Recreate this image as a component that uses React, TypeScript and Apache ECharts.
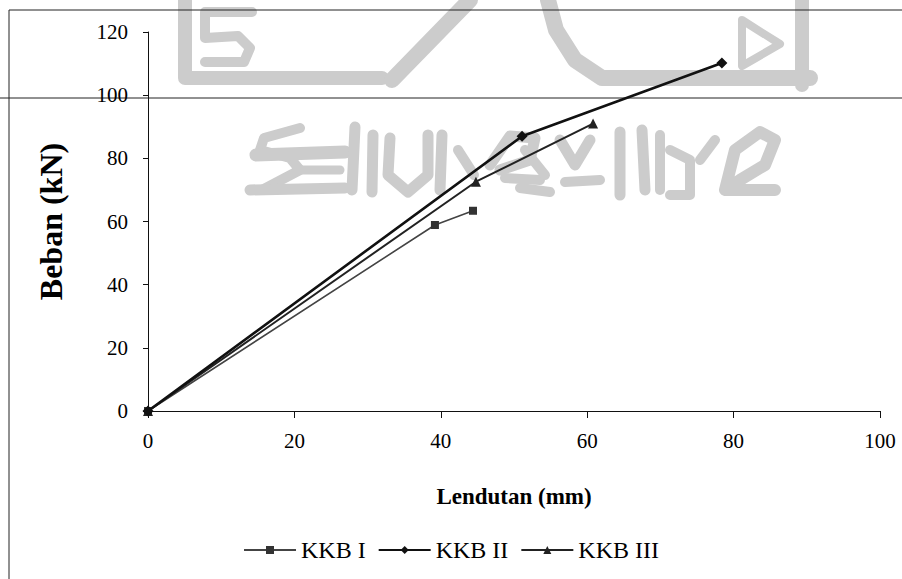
import React, { useEffect, useRef } from "react";
import * as echarts from "echarts";

// Load–deflection test results (Lendutan in mm, Beban in kN)
const seriesNames = ["KKB I", "KKB II", "KKB III"];
const kkb1Lendutan = [0, 39.2, 44.4];
const kkb1Beban = [0, 58.9, 63.4];
const kkb2Lendutan = [0, 51.1, 78.4];
const kkb2Beban = [0, 87.0, 110.2];
const kkb3Lendutan = [0, 44.8, 60.8];
const kkb3Beban = [0, 72.6, 91.0];

const xTicks = [0, 20, 40, 60, 80, 100];
const yTicks = [0, 20, 40, 60, 80, 100, 120];

const pair = (xs: number[], ys: number[]) => xs.map((x, i) => [x, ys[i]]);

const SERIF = "'Liberation Serif', 'DejaVu Serif', serif";
const WM = "#cccccc";

// faint emblem printed behind the plot
const stroke = (points: number[][], lineWidth: number) => ({
  type: "polyline",
  z: -5,
  silent: true,
  shape: { points },
  style: { stroke: WM, lineWidth, fill: null, lineJoin: "round", lineCap: "round" },
});

const emblem = [
  stroke([[185, 0], [185, 78], [382, 78]], 14),
  stroke([[252, 12], [205, 12], [205, 38], [238, 36], [250, 48], [244, 62], [205, 62]], 10),
  stroke([[392, 80], [470, 0]], 16),
  stroke([[548, 0], [556, 30], [575, 60], [602, 78], [810, 78]], 16),
  stroke([[802, 0], [802, 85]], 14),
  {
    type: "polygon",
    z: -5,
    silent: true,
    shape: { points: [[742, 20], [780, 44], [742, 66]] },
    style: { stroke: WM, lineWidth: 8, fill: null, lineJoin: "round" },
  },
  stroke([[300, 128], [264, 138], [260, 150], [290, 158], [300, 170], [262, 190]], 10),
  stroke([[256, 155], [345, 152]], 13),
  stroke([[250, 190], [345, 188]], 11),
  stroke([[302, 170], [340, 170]], 9),
  stroke([[355, 127], [352, 190]], 11),
  stroke([[373, 135], [372, 192]], 11),
  stroke([[390, 138], [388, 175], [408, 192], [428, 175], [428, 135]], 11),
  stroke([[442, 135], [440, 190]], 11),
  stroke([[458, 150], [474, 175]], 10),
  stroke([[490, 165], [510, 136], [535, 138], [530, 160], [500, 170]], 11),
  stroke([[505, 178], [540, 180]], 10),
  stroke([[525, 150], [545, 175]], 10),
  stroke([[520, 188], [550, 192]], 10),
  stroke([[560, 140], [575, 165], [590, 140]], 11),
  stroke([[565, 182], [600, 180]], 10),
  stroke([[620, 132], [620, 195]], 11),
  stroke([[642, 130], [645, 190]], 11),
  stroke([[660, 135], [660, 190]], 10),
  stroke([[670, 150], [690, 160], [690, 195], [670, 195]], 10),
  stroke([[700, 160], [715, 140]], 10),
  stroke([[725, 190], [735, 150], [760, 132], [775, 140], [765, 165], [740, 180], [725, 190], [775, 190]], 12),
];

// page frame and ruling
const frame = [
  { type: "line", shape: { x1: 9, y1: 10, x2: 902, y2: 10 }, style: { stroke: "#222", lineWidth: 1 } },
  { type: "line", shape: { x1: 9, y1: 10, x2: 9, y2: 579 }, style: { stroke: "#222", lineWidth: 1 } },
  { type: "line", shape: { x1: 0, y1: 98, x2: 902, y2: 98 }, style: { stroke: "#222", lineWidth: 1 } },
];

export default function App() {
  const ref = useRef<HTMLDivElement>(null);

  useEffect(() => {
    document.body.style.margin = "0";
    if (!ref.current) return;
    const chart = echarts.init(ref.current, undefined, { renderer: "svg" });

    const axisText = { color: "#000", fontFamily: SERIF, fontSize: 21 };

    chart.setOption({
      animation: false,
      backgroundColor: "#fff",
      grid: { left: 148, right: 22, top: 32, bottom: 168, containLabel: false },
      graphic: [...emblem, ...frame],
      legend: {
        data: seriesNames,
        left: "center",
        top: 533,
        itemWidth: 52,
        itemHeight: 10,
        itemGap: 12,
        textStyle: { color: "#000", fontFamily: SERIF, fontSize: 24 },
      },
      xAxis: {
        type: "value",
        min: xTicks[0],
        max: xTicks[xTicks.length - 1],
        interval: 20,
        name: "Lendutan (mm)",
        nameLocation: "middle",
        nameGap: 74,
        nameTextStyle: { color: "#000", fontFamily: SERIF, fontSize: 23, fontWeight: "bold" },
        axisLine: { show: true, lineStyle: { color: "#111", width: 1 } },
        axisTick: { show: true, length: 7, lineStyle: { color: "#111" } },
        axisLabel: { ...axisText, margin: 19 },
        splitLine: { show: false },
      },
      yAxis: {
        type: "value",
        min: yTicks[0],
        max: yTicks[yTicks.length - 1],
        interval: 20,
        name: "Beban (kN)",
        nameLocation: "middle",
        nameGap: 81,
        nameTextStyle: { color: "#000", fontFamily: SERIF, fontSize: 32, fontWeight: "bold" },
        axisLine: { show: true, lineStyle: { color: "#111", width: 1 } },
        axisTick: { show: true, length: 5, lineStyle: { color: "#111" } },
        axisLabel: { ...axisText, margin: 20 },
        splitLine: { show: false },
      },
      series: [
        {
          name: seriesNames[0],
          type: "line",
          data: pair(kkb1Lendutan, kkb1Beban),
          symbol: "rect",
          symbolSize: 8,
          z: 3,
          lineStyle: { color: "#444", width: 1.6 },
          itemStyle: { color: "#333" },
        },
        {
          name: seriesNames[1],
          type: "line",
          data: pair(kkb2Lendutan, kkb2Beban),
          symbol: "diamond",
          symbolSize: 11,
          z: 4,
          lineStyle: { color: "#111", width: 2.6 },
          itemStyle: { color: "#111" },
        },
        {
          name: seriesNames[2],
          type: "line",
          data: pair(kkb3Lendutan, kkb3Beban),
          symbol: "triangle",
          symbolSize: 10,
          z: 3,
          lineStyle: { color: "#222", width: 2 },
          itemStyle: { color: "#222" },
        },
      ],
    });

    return () => chart.dispose();
  }, []);

  return <div ref={ref} style={{ width: 902, height: 579 }} />;
}
